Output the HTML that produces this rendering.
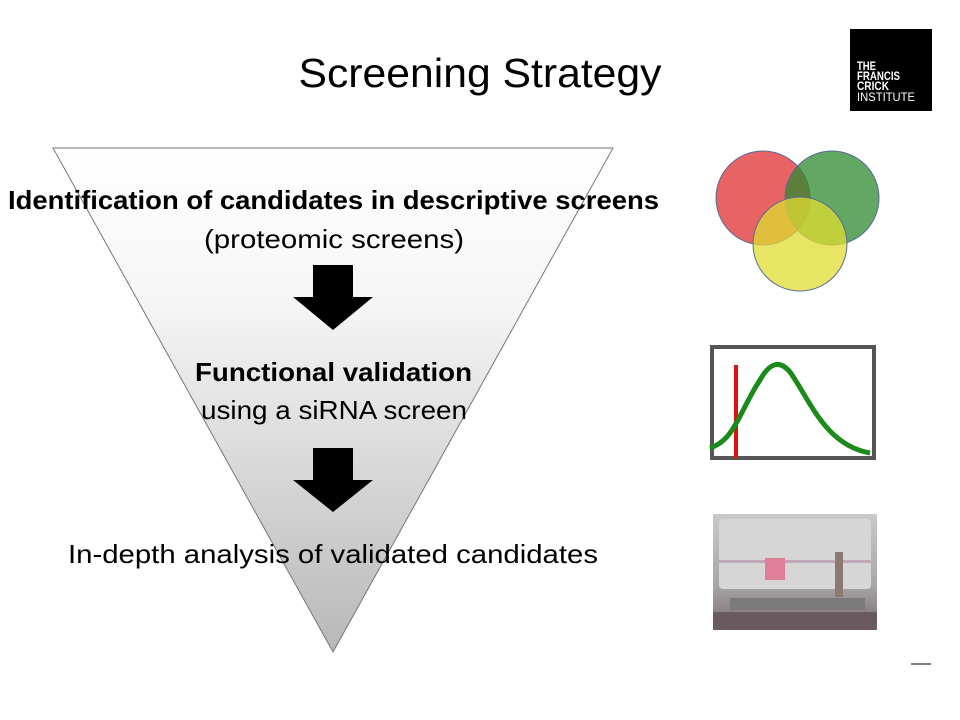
<!DOCTYPE html>
<html><head><meta charset="utf-8"><style>
html,body{margin:0;padding:0;background:#fff;}
svg{display:block;}
text{font-family:"Liberation Sans",sans-serif;}
</style></head><body>
<svg width="960" height="720" viewBox="0 0 960 720" xmlns="http://www.w3.org/2000/svg">
<defs>
<linearGradient id="g" x1="0" y1="0" x2="0" y2="1">
<stop offset="0" stop-color="#ffffff"/>
<stop offset="0.3" stop-color="#f6f6f6"/>
<stop offset="1" stop-color="#b8b8b8"/>
</linearGradient>
<linearGradient id="hood" x1="0" y1="0" x2="0" y2="1">
<stop offset="0" stop-color="#c9c9c9"/>
<stop offset="0.6" stop-color="#a9a8a8"/>
<stop offset="1" stop-color="#7a6a70"/>
</linearGradient>
</defs>
<text x="480" y="87" font-size="41" text-anchor="middle" textLength="363" lengthAdjust="spacingAndGlyphs">Screening Strategy</text>
<rect x="850" y="29" width="82" height="82" fill="#000"/>
<text x="857" y="70" font-size="12" fill="#fff" font-weight="bold" textLength="19" lengthAdjust="spacingAndGlyphs">THE</text>
<text x="857" y="80" font-size="12" fill="#fff" font-weight="bold" textLength="43" lengthAdjust="spacingAndGlyphs">FRANCIS</text>
<text x="857" y="90" font-size="12" fill="#fff" font-weight="bold" textLength="32" lengthAdjust="spacingAndGlyphs">CRICK</text>
<text x="857" y="101" font-size="12" fill="#fff" textLength="58" lengthAdjust="spacingAndGlyphs">INSTITUTE</text>

<polygon points="53,148 613,148 333,652" fill="url(#g)" stroke="#777" stroke-width="1"/>
<polygon points="313,265 353,265 353,297 373,297 333,330 293,297 313,297" fill="#000"/>
<polygon points="313,448 353,448 353,480 373,480 333,512 293,480 313,480" fill="#000"/>

<text x="8" y="209" font-size="26" font-weight="bold" textLength="651" lengthAdjust="spacingAndGlyphs">Identification of candidates in descriptive screens</text>
<text x="204" y="248" font-size="26" textLength="260" lengthAdjust="spacingAndGlyphs">(proteomic screens)</text>
<text x="195" y="381" font-size="26" font-weight="bold" textLength="277" lengthAdjust="spacingAndGlyphs">Functional validation</text>
<text x="201" y="419" font-size="26" textLength="266" lengthAdjust="spacingAndGlyphs">using a siRNA screen</text>
<text x="68" y="563" font-size="26" textLength="530" lengthAdjust="spacingAndGlyphs">In-depth analysis of validated candidates</text>

<g stroke="#5a6a9a" stroke-width="1">
<circle cx="763" cy="198" r="47" fill="#e03030" fill-opacity="0.75"/>
<circle cx="832" cy="198" r="47" fill="#2d8a2d" fill-opacity="0.75"/>
<circle cx="800" cy="244" r="47" fill="#e0dc30" fill-opacity="0.75"/>
</g>

<rect x="712" y="347" width="162" height="111" fill="#fff" stroke="#555" stroke-width="4"/>
<line x1="736" y1="365" x2="736" y2="458" stroke="#e01010" stroke-width="4"/>
<path d="M710,448 C735,440 740,410 760,380 C770,362 780,360 790,372 C810,400 825,445 870,453" fill="none" stroke="#1a8a1a" stroke-width="5"/>

<rect x="713" y="514" width="164" height="116" fill="url(#hood)"/>
<rect x="719" y="519" width="152" height="70" fill="#d6d6d6" rx="4"/>
<rect x="719" y="560" width="152" height="3" fill="#c0a8b8"/>
<rect x="765" y="558" width="20" height="22" fill="#e08098"/>
<rect x="835" y="552" width="8" height="45" fill="#8a7a70"/>
<rect x="730" y="598" width="135" height="12" fill="#7a7a7a"/>
<rect x="713" y="612" width="164" height="18" fill="#6a5a60"/>

<line x1="911" y1="664" x2="931" y2="664" stroke="#000" stroke-width="1"/>
</svg>
</body></html>
